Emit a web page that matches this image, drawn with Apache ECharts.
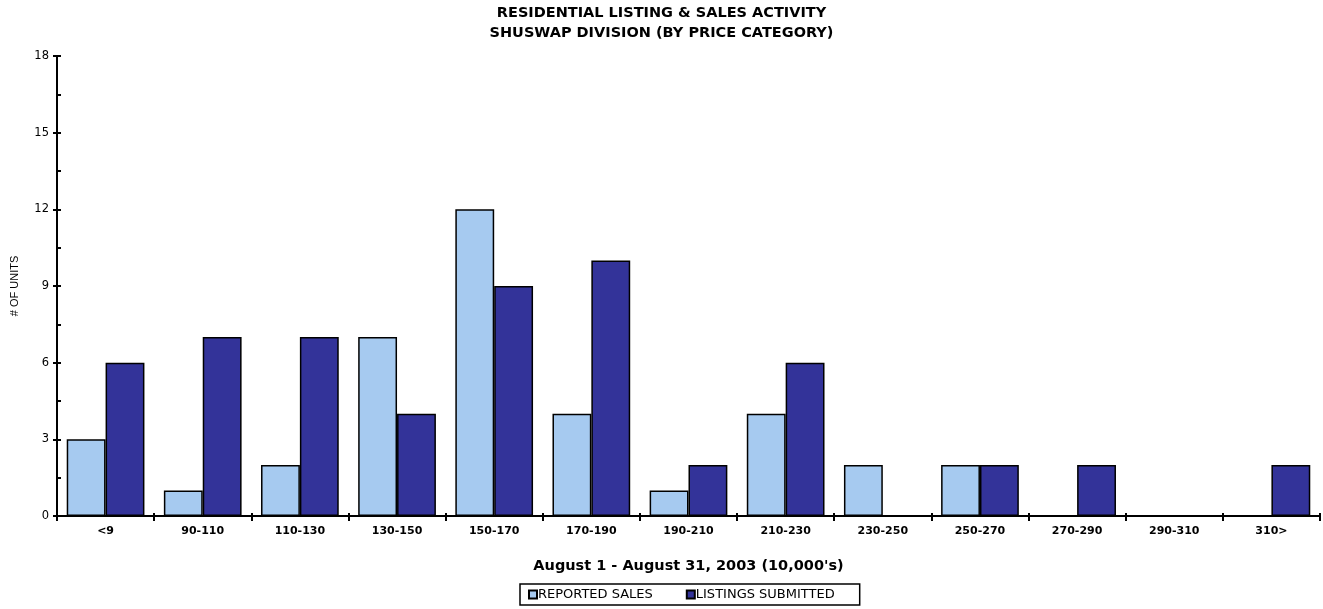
<!DOCTYPE html>
<html><head><meta charset="utf-8">
<script src="https://cdn.jsdelivr.net/npm/echarts@6/dist/echarts.min.js"></script>
<style>html,body{margin:0;padding:0;background:#fff}#c{width:1323px;height:609px}</style>
</head><body><div id="c"></div>
<script>
const categories = ['<9','90-110','110-130','130-150','150-170','170-190','190-210','210-230','230-250','250-270','270-290','290-310','310>'];
const reportedSales = [3,1,2,7,12,4,1,4,2,2,0,0,0];
const listingsSubmitted = [6,7,7,4,9,10,2,6,0,2,2,0,2];
const yTicks = [0,3,6,9,12,15,18];

const font = 'DejaVu Sans, Verdana, sans-serif';
const chart = echarts.init(document.getElementById('c'));
chart.setOption({
  animation: false,
  title: {
    text: 'RESIDENTIAL LISTING & SALES ACTIVITY\nSHUSWAP DIVISION (BY PRICE CATEGORY)',
    left: 'center', top: 3, padding: 0,
    textStyle: {fontFamily: font, fontSize: 14.5, fontWeight: 'bold', color: '#000', lineHeight: 20}
  },
  legend: {
    left: 520, top: 584,
    data: ['REPORTED SALES', 'LISTINGS SUBMITTED'],
    icon: 'rect', itemWidth: 8, itemHeight: 8, itemGap: 33,
    borderColor: '#000', borderWidth: 1.5, borderRadius: 0,
    padding: [4, 25, 4, 8],
    textStyle: {fontFamily: font, fontSize: 13, color: '#000', padding: [0,0,0,-4]}
  },
  grid: {left: 57, right: 3, top: 56, bottom: 93},
  xAxis: [{
    type: 'category', data: categories,
    name: "August 1 - August 31, 2003 (10,000's)",
    nameLocation: 'middle', nameGap: 43,
    nameTextStyle: {fontFamily: font, fontSize: 14.5, fontWeight: 'bold', color: '#000'},
    axisLine: {lineStyle: {color: '#000', width: 2}},
    axisTick: {show: true, length: 5, lineStyle: {color: '#000', width: 2}},
    axisLabel: {fontFamily: font, fontSize: 11, fontWeight: 'bold', color: '#000', margin: 10, interval: 0}
  }, {
    type: 'category', data: categories, position: 'bottom',
    axisLine: {show: false},
    axisTick: {show: true, inside: true, length: 3, lineStyle: {color: '#000', width: 2}},
    axisLabel: {show: false}
  }],
  yAxis: [{
    type: 'value', min: yTicks[0], max: yTicks[yTicks.length-1], interval: 3,
    name: '# OF UNITS', nameLocation: 'middle', nameGap: 37, nameRotate: 90,
    nameTextStyle: {fontFamily: 'Liberation Sans, Arial, sans-serif', fontSize: 11, color: '#000'},
    axisLine: {show: true, lineStyle: {color: '#000', width: 2}},
    axisTick: {show: true, length: 4, lineStyle: {color: '#000', width: 2}},
    axisLabel: {fontFamily: font, fontSize: 11.5, color: '#000', margin: 8},
    splitLine: {show: false}
  }, {
    type: 'value', min: yTicks[0], max: yTicks[yTicks.length-1], interval: 3, position: 'left',
    axisLine: {show: false},
    axisTick: {show: true, inside: true, length: 4, lineStyle: {color: '#000', width: 2}},
    minorTick: {show: true, splitNumber: 2, length: 4, lineStyle: {color: '#000', width: 2}},
    axisLabel: {show: false},
    splitLine: {show: false}
  }],
  series: [{
    name: 'REPORTED SALES', type: 'bar', data: reportedSales,
    barGap: '0%', barCategoryGap: '20%',
    itemStyle: {color: '#A6CAF0', borderColor: '#000', borderWidth: 1.5}
  }, {
    name: 'LISTINGS SUBMITTED', type: 'bar', data: listingsSubmitted,
    barGap: '0%', barCategoryGap: '20%',
    itemStyle: {color: '#333399', borderColor: '#000', borderWidth: 1.5}
  }]
});
</script></body></html>
